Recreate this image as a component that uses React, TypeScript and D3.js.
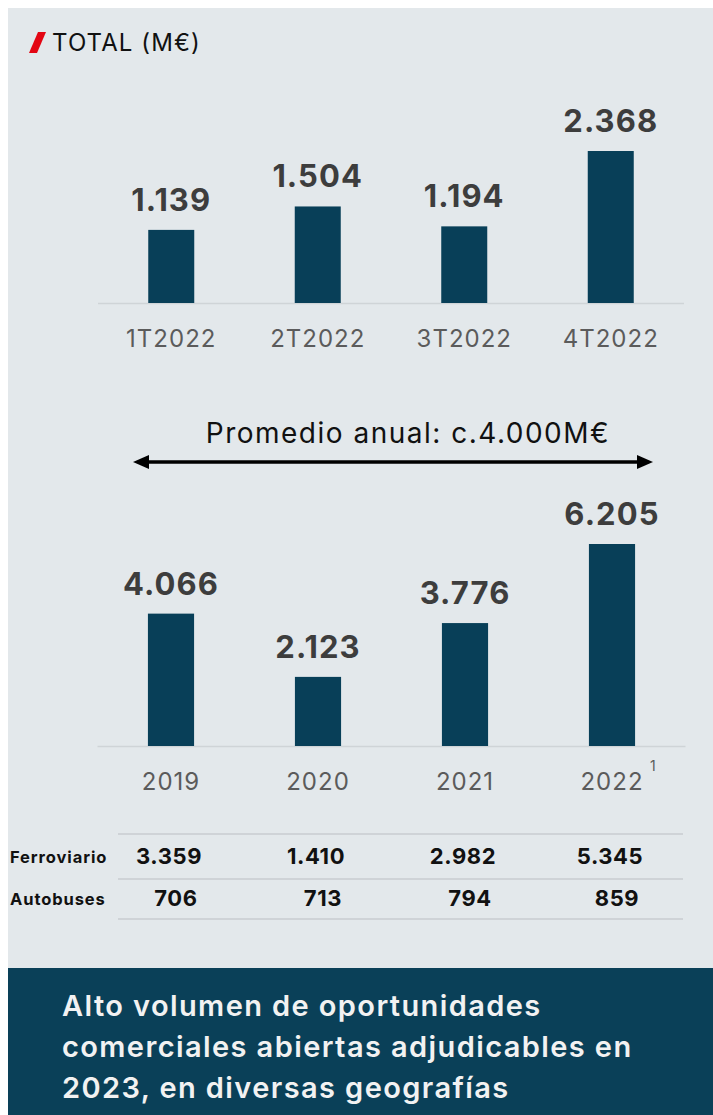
import React, { useEffect, useRef } from 'react';
import * as d3 from 'd3';

// quarterly 2022
const quarters = ['1T2022', '2T2022', '3T2022', '4T2022'];
const quarterValues = [1139, 1504, 1194, 2368];

// annual
const years = ['2019', '2020', '2021', '2022'];
const yearValues = [4066, 2123, 3776, 6205];

// breakdown table
const rowLabels = ['Ferroviario', 'Autobuses'];
const ferroviario = [3359, 1410, 2982, 5345];
const autobuses = [706, 713, 794, 859];

const fmt = (v: number) => v >= 1000 ? `${Math.floor(v / 1000)}.${String(v % 1000).padStart(3, '0')}` : String(v);

const FONT = 'Inter, "Open Sans", sans-serif';
const BAR = '#083f58';
const BG = '#e3e8eb';

const App = () => {
  const svgRef = useRef<SVGSVGElement>(null);

  useEffect(() => {
    const svg = d3.select(svgRef.current);
    svg.selectAll('*').remove();
    // svg sits at page origin, so coordinates are page pixels
    const g = svg.append('g');

    g.append('rect').attr('x', 8).attr('y', 8).attr('width', 705).attr('height', 960).attr('fill', BG);
    g.append('rect').attr('x', 8).attr('y', 968).attr('width', 705).attr('height', 147).attr('fill', '#0a4058');

    // header
    g.append('path').attr('d', 'M38,32 L46,32 L37,53 L29,53 Z').attr('fill', '#e30613');
    g.append('text').attr('x', 52).attr('y', 51).attr('font-family', FONT).attr('font-size', 24)
      .attr('letter-spacing', 1.1).attr('fill', '#111').text('TOTAL (M€)');

    const drawBars = (cats: string[], vals: number[], x0: number, x1: number, base: number, top: number, supLast: boolean) => {
      const x = d3.scaleBand().domain(cats).range([x0, x1]).paddingInner(0.686).paddingOuter(0.343);
      const y = d3.scaleLinear().domain([0, d3.max(vals) as number]).range([base, top]);

      g.append('line').attr('x1', x0).attr('x2', x1).attr('y1', base + 0.5).attr('y2', base + 0.5)
        .attr('stroke', '#cfd4d7').attr('stroke-width', 1.5);

      g.selectAll(null).data(vals).enter().append('rect')
        .attr('x', (_, i) => x(cats[i]) as number)
        .attr('width', x.bandwidth())
        .attr('y', d => y(d))
        .attr('height', d => base - y(d))
        .attr('fill', BAR);

      g.selectAll(null).data(vals).enter().append('text')
        .attr('x', (_, i) => (x(cats[i]) as number) + x.bandwidth() / 2)
        .attr('y', d => y(d) - 19)
        .attr('text-anchor', 'middle')
        .attr('font-family', FONT).attr('font-weight', 700).attr('font-size', 31)
        .attr('letter-spacing', 1.1)
        .attr('fill', '#3d3d3d')
        .text(d => fmt(d));

      g.selectAll(null).data(cats).enter().append('text')
        .attr('x', d => (x(d) as number) + x.bandwidth() / 2)
        .attr('y', base + 44)
        .attr('text-anchor', 'middle')
        .attr('font-family', FONT).attr('font-size', 24)
        .attr('letter-spacing', 1)
        .attr('fill', '#5b5b5b')
        .text(d => d);

      if (supLast) {
        const last = cats[cats.length - 1];
        g.append('text')
          .attr('x', (x(last) as number) + x.bandwidth() / 2 + 38)
          .attr('y', base + 25)
          .attr('font-family', FONT).attr('font-size', 14)
          .attr('fill', '#5b5b5b').text('1');
      }
      return x;
    };

    drawBars(quarters, quarterValues, 98, 684, 303, 151, false);
    const xYear = drawBars(years, yearValues, 97.5, 685.5, 746, 544, true);

    // average arrow
    g.append('text').attr('x', 408).attr('y', 443).attr('text-anchor', 'middle')
      .attr('font-family', FONT).attr('font-size', 28).attr('letter-spacing', 1.5).attr('fill', '#111')
      .text('Promedio anual: c.4.000M€');
    g.append('line').attr('x1', 146).attr('x2', 640).attr('y1', 462).attr('y2', 462)
      .attr('stroke', '#000').attr('stroke-width', 3.5);
    g.append('path').attr('d', 'M133,462 L149,455 L149,469 Z').attr('fill', '#000');
    g.append('path').attr('d', 'M653,462 L637,455 L637,469 Z').attr('fill', '#000');

    // table
    [834, 879, 919].forEach(yy => {
      g.append('line').attr('x1', 118).attr('x2', 683).attr('y1', yy).attr('y2', yy)
        .attr('stroke', '#c8cdd0').attr('stroke-width', 1.5);
    });
    const rows = [ferroviario, autobuses];
    const rowY = [864, 906];
    const rowShift = [-2, 5];
    rows.forEach((row, r) => {
      g.append('text').attr('x', 10).attr('y', rowY[r] - 1)
        .attr('font-family', FONT).attr('font-weight', 700).attr('font-size', 16.5)
        .attr('letter-spacing', 0.9)
        .attr('fill', '#111').text(rowLabels[r]);
      g.selectAll(null).data(row).enter().append('text')
        .attr('x', (_, i) => (xYear(years[i]) as number) + xYear.bandwidth() / 2 + rowShift[r])
        .attr('y', rowY[r])
        .attr('text-anchor', 'middle')
        .attr('font-family', FONT).attr('font-weight', 700).attr('font-size', 22)
        .attr('letter-spacing', 0.6)
        .attr('fill', '#111')
        .text(d => fmt(d));
    });

    // footer message
    const lines = ['Alto volumen de oportunidades', 'comerciales abiertas adjudicables en', '2023, en diversas geografías'];
    lines.forEach((t, i) => {
      g.append('text').attr('x', 62).attr('y', 1016 + i * 41)
        .attr('font-family', FONT).attr('font-weight', 600).attr('font-size', 29)
        .attr('letter-spacing', 1.4)
        .attr('fill', '#f2f2f2').text(t);
    });
  }, []);

  return (
    <svg ref={svgRef} width={713} height={1115}
      style={{ position: 'absolute', left: 0, top: 0, display: 'block' }} />
  );
};

export default App;
